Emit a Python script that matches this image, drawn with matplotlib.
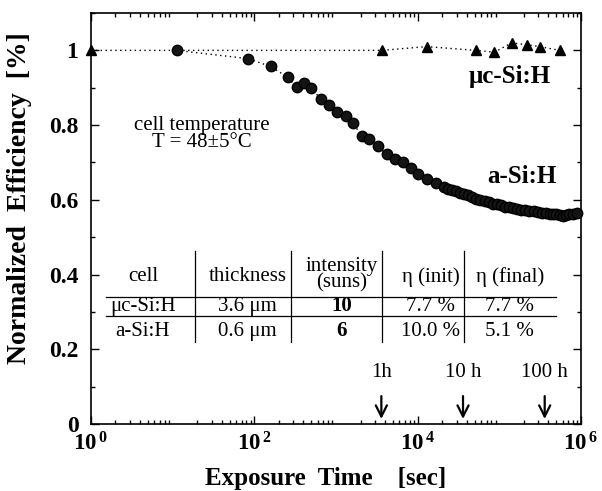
import numpy as np
import matplotlib
matplotlib.use("Agg")
import matplotlib.pyplot as plt
from matplotlib.ticker import FixedLocator, FixedFormatter, LogLocator, NullFormatter, MultipleLocator

plt.rcParams['font.family'] = ['Liberation Serif', 'DejaVu Serif']
plt.rcParams['mathtext.fontset'] = 'custom'
plt.rcParams['mathtext.rm'] = 'Liberation Serif'
plt.rcParams['mathtext.bf'] = 'Liberation Serif:bold'

# ---- data ----
uc_log_t = [0.0, 3.56, 4.11, 4.72, 4.94, 5.15, 5.34, 5.50, 5.74]
uc_eff = [1.0, 1.0, 1.01, 1.0, 0.995, 1.02, 1.015, 1.01, 1.0]

a_log_t = [1.05, 1.92, 2.20, 2.41, 2.52, 2.61, 2.70, 2.82, 2.91, 3.01, 3.12, 3.21,
           3.32, 3.40, 3.51, 3.62, 3.72, 3.82, 3.92, 4.01, 4.11, 4.22, 4.32, 4.37,
           4.42, 4.47, 4.52, 4.57, 4.62, 4.67, 4.72, 4.77, 4.82, 4.87, 4.92, 4.97,
           5.02, 5.07, 5.12, 5.17, 5.22, 5.27, 5.32, 5.37, 5.42, 5.47, 5.52, 5.57,
           5.62, 5.66, 5.70, 5.74, 5.78, 5.82, 5.86, 5.90, 5.95]
a_eff = [1.0, 0.978, 0.957, 0.928, 0.901, 0.914, 0.898, 0.869, 0.853, 0.834, 0.824, 0.805,
         0.770, 0.762, 0.743, 0.722, 0.709, 0.701, 0.684, 0.668, 0.655, 0.644, 0.634, 0.630,
         0.627, 0.623, 0.619, 0.615, 0.612, 0.607, 0.603, 0.600, 0.596, 0.593, 0.590, 0.588,
         0.585, 0.582, 0.580, 0.578, 0.576, 0.574, 0.572, 0.570, 0.569, 0.567, 0.566, 0.564,
         0.563, 0.562, 0.561, 0.559, 0.558, 0.560, 0.562, 0.563, 0.565]

arrow_times = [3600, 36000, 360000]
arrow_labels = ['1h', '10 h', '100 h']

xtick_vals = [1, 1e2, 1e4, 1e6]
xtick_labels = [r'$\mathbf{10^{\,0}}$', r'$\mathbf{10^{\,2}}$', r'$\mathbf{10^{\,4}}$', r'$\mathbf{10^{\,6}}$']
ytick_vals = [0, 0.2, 0.4, 0.6, 0.8, 1.0]
ytick_labels = ['0', '0.2', '0.4', '0.6', '0.8', '1']

table_header = ['cell', 'thickness', 'intensity\n(suns)', 'η (init)', 'η (final)']
table_rows = [['μc-Si:H', '3.6 μm', '10', '7.7 %', '7.7 %'],
              ['a-Si:H', '0.6 μm', '6', '10.0 %', '5.1 %']]

# ---- figure ----
fig = plt.figure(figsize=(6.02, 4.91), dpi=100)
ax = fig.add_axes([0.151, 0.1365, 0.814, 0.837])

uc_t = [10 ** v for v in uc_log_t]
a_t = [10 ** v for v in a_log_t]

ax.plot(uc_t, uc_eff, linestyle=(0, (1, 2.5)), color='black', lw=1.0,
        marker='^', markersize=7, markerfacecolor='black', markeredgecolor='black', clip_on=False, zorder=3)
ax.plot(a_t, a_eff, linestyle=(0, (1, 2.5)), color='black', lw=1.0,
        marker='o', markersize=7.5, markerfacecolor='#151515', markeredgecolor='black', clip_on=False, zorder=3)

ax.set_xscale('log')
ax.set_xlim(1, 1e6)
ax.set_ylim(0, 1.1)

ax.xaxis.set_major_locator(FixedLocator(xtick_vals))
ax.xaxis.set_major_formatter(FixedFormatter(xtick_labels))
ax.xaxis.set_minor_locator(LogLocator(base=10, subs=np.arange(2, 10)))
ax.xaxis.set_minor_formatter(NullFormatter())
ax.yaxis.set_major_locator(FixedLocator(ytick_vals))
ax.yaxis.set_major_formatter(FixedFormatter(ytick_labels))
ax.yaxis.set_minor_locator(MultipleLocator(0.1))

ax.tick_params(which='both', direction='in', top=True, right=True, width=1.0)
ax.tick_params(which='major', length=6)
ax.tick_params(which='minor', length=3)
ax.tick_params(axis='x', which='major', pad=6, labelsize=16.5)
ax.tick_params(axis='y', which='major', pad=9, labelsize=17)
for lab in ax.get_yticklabels():
    lab.set_fontweight('bold')
for sp in ax.spines.values():
    sp.set_linewidth(1.2)

ax.set_xlabel('Exposure  Time    [sec]', fontsize=18, fontweight='bold', labelpad=2)
ax.xaxis.set_label_coords(0.48, -0.105)
ax.set_ylabel('Normalized  Efficiency  [%]', fontsize=20, fontweight='bold')
ax.yaxis.set_label_coords(-0.12, 0.55)

# annotations
ax.text(0.227, 0.706, 'cell temperature\nT = 48±5°C', transform=ax.transAxes,
        ha='center', va='center', fontsize=15, linespacing=0.85)
ax.text(0.855, 0.845, 'μc-Si:H', transform=ax.transAxes, ha='center', va='center',
        fontsize=18, fontweight='bold')
ax.text(0.88, 0.601, 'a-Si:H', transform=ax.transAxes, ha='center', va='center',
        fontsize=18, fontweight='bold')

for t, lab in zip(arrow_times, arrow_labels):
    ax.annotate('', xy=(t, 0.006), xytext=(t, 0.082),
                arrowprops=dict(arrowstyle='->', color='black', lw=1.6, mutation_scale=20))
    ax.text(t, 0.137, lab, ha='center', va='center', fontsize=15)

# table (axes-fraction layout)
col_x = [0.106, 0.32, 0.512, 0.694, 0.855]
hdr_y = 0.36
row_y = [0.286, 0.226]
vlines = [0.212, 0.408, 0.594, 0.761]
hlines_y = [0.31, 0.262]
for x, h in zip(col_x, table_header):
    if '\n' in h:
        ax.text(x, hdr_y + 0.003, h, transform=ax.transAxes, ha='center', va='center',
                fontsize=15, linespacing=0.85)
    else:
        ax.text(x, hdr_y - 0.002, h, transform=ax.transAxes, ha='center', va='center', fontsize=15)
for ry, row in zip(row_y, table_rows):
    for j, (x, c) in enumerate(zip(col_x, row)):
        ax.text(x, ry, c, transform=ax.transAxes, ha='center', va='center', fontsize=15,
                fontweight='bold' if j == 2 else 'normal')
for vx in vlines:
    ax.plot([vx, vx], [0.2, 0.42], transform=ax.transAxes, color='black', lw=0.9)
for hy in hlines_y:
    ax.plot([0.03, 0.95], [hy, hy], transform=ax.transAxes, color='black', lw=0.9)

fig.savefig('out.png', dpi=100)
